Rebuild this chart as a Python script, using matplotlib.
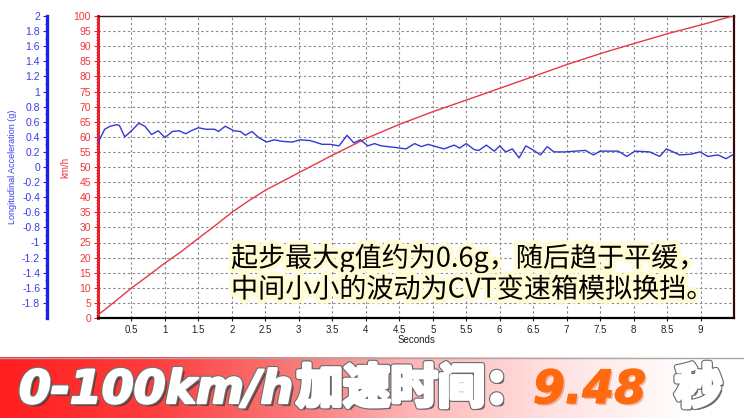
import matplotlib
matplotlib.use('Agg')
import matplotlib.pyplot as plt
import matplotlib.patheffects as pe
from matplotlib.colors import LinearSegmentedColormap
from matplotlib.lines import Line2D
from matplotlib.ticker import MultipleLocator
import numpy as np

plt.rcParams['font.family'] = ['Liberation Sans', 'DejaVu Sans']

# ---------------- data ----------------
speed_time = [0, 0.25, 0.5, 0.75, 1.0, 1.25, 1.5, 1.75, 2.0, 2.25, 2.5, 3.0, 3.5,
              4.0, 4.5, 5.0, 5.52, 6.02, 6.53, 7.04, 7.54, 8.04, 8.55, 9.05, 9.48]
speed_kmh = [1, 5.4, 9.9, 14.0, 18.2, 22.1, 26.4, 30.6, 35.0, 38.8, 42.3, 48.1, 53.9,
             59.4, 64.1, 68.3, 72.3, 76.2, 80.2, 84.2, 87.8, 91.1, 94.4, 97.3, 100]

accel_time = [0.00, 0.10, 0.18, 0.28, 0.32, 0.40, 0.50, 0.61, 0.70, 0.80,
              0.90, 1.00, 1.11, 1.21, 1.31, 1.39, 1.50, 1.61, 1.74, 1.80,
              1.90, 2.03, 2.13, 2.20, 2.30, 2.40, 2.52, 2.63, 2.75, 2.90,
              3.02, 3.17, 3.35, 3.47, 3.60, 3.72, 3.82, 3.92, 4.03, 4.13,
              4.23, 4.43, 4.60, 4.73, 4.83, 4.93, 5.05, 5.17, 5.32, 5.40,
              5.50, 5.62, 5.69, 5.80, 5.92, 6.00, 6.09, 6.19, 6.29, 6.39,
              6.49, 6.61, 6.71, 6.81, 6.98, 7.13, 7.28, 7.40, 7.50, 7.77,
              7.90, 8.02, 8.24, 8.39, 8.49, 8.69, 8.86, 8.99, 9.11, 9.26,
              9.38, 9.48]
accel_g = [0.32, 0.50, 0.54, 0.56, 0.55, 0.40, 0.48, 0.58, 0.54, 0.43,
           0.48, 0.39, 0.47, 0.48, 0.44, 0.48, 0.52, 0.50, 0.50, 0.47,
           0.54, 0.48, 0.47, 0.42, 0.47, 0.39, 0.33, 0.36, 0.34, 0.33,
           0.36, 0.35, 0.30, 0.30, 0.28, 0.42, 0.32, 0.36, 0.28, 0.31,
           0.28, 0.26, 0.24, 0.31, 0.27, 0.30, 0.27, 0.24, 0.29, 0.25,
           0.31, 0.23, 0.22, 0.29, 0.21, 0.28, 0.20, 0.24, 0.12, 0.28,
           0.23, 0.16, 0.27, 0.20, 0.20, 0.21, 0.22, 0.16, 0.21, 0.21,
           0.14, 0.21, 0.20, 0.14, 0.24, 0.16, 0.17, 0.20, 0.14, 0.16,
           0.11, 0.16]

x_ticks = [0.5, 1, 1.5, 2, 2.5, 3, 3.5, 4, 4.5, 5, 5.5, 6, 6.5, 7, 7.5, 8, 8.5, 9]
x_tick_labels = ['0.5', '1', '1.5', '2', '2.5', '3', '3.5', '4', '4.5', '5',
                 '5.5', '6', '6.5', '7', '7.5', '8', '8.5', '9']
speed_ticks = [0, 5, 10, 15, 20, 25, 30, 35, 40, 45, 50, 55, 60, 65, 70, 75, 80, 85, 90, 95, 100]
accel_ticks = [2, 1.8, 1.6, 1.4, 1.2, 1, 0.8, 0.6, 0.4, 0.2, 0, -0.2, -0.4, -0.6,
               -0.8, -1, -1.2, -1.4, -1.6, -1.8]
accel_tick_labels = ['2', '1.8', '1.6', '1.4', '1.2', '1', '0.8', '0.6', '0.4', '0.2', '0',
                     '-0.2', '-0.4', '-0.6', '-0.8', '-1', '-1.2', '-1.4', '-1.6', '-1.8']

note_lines = ['起步最大g值约为0.6g，随后趋于平缓，', '中间小小的波动为CVT变速箱模拟换挡。']
banner_head = '0-100km/h'
banner_cjk = '加速时间：'
banner_value = '9.48'
banner_unit = '秒'

# ---------------- figure ----------------
W, H = 744, 418
fig = plt.figure(figsize=(W / 100, H / 100), dpi=100)
fig.patch.set_facecolor('white')


def fx(px):
    return px / W


def fy(py):
    return 1 - py / H


L, R, T, B = 98, 734, 16, 318
ax = fig.add_axes([fx(L), fy(B), (R - L) / W, (B - T) / H])
ax.set_xlim(0, 9.5)
ax.set_ylim(0, 100)

RED = '#e8202a'
RED_TXT = '#f03838'
BLUE = '#1f1fe8'
BLUE_TXT = '#3a3af0'

ax.set_xticks(x_ticks)
ax.set_xticklabels(x_tick_labels)
ax.set_yticks(speed_ticks)
ax.yaxis.set_minor_locator(MultipleLocator(1))
ax.grid(True, which='major', color='#8c8c8c', linestyle=(0, (2.2, 2.2)), linewidth=0.8)
ax.set_axisbelow(True)

ax.plot(speed_time, speed_kmh, color='#e63846', lw=1.0, zorder=3)

ax.tick_params(axis='x', length=2, labelsize=7, pad=3, colors='#222222')
ax.tick_params(axis='y', which='major', length=3, labelsize=7.5, pad=2,
               color=RED, labelcolor=RED_TXT)
ax.tick_params(axis='y', which='minor', length=1.5, color=RED)

ax.spines['left'].set_color(RED)
ax.spines['left'].set_linewidth(2.2)
ax.spines['bottom'].set_color('black')
ax.spines['bottom'].set_linewidth(1.6)
ax.spines['top'].set_color('#222222')
ax.spines['top'].set_linewidth(1.0)
ax.spines['right'].set_color('#3a0808')
ax.spines['right'].set_linewidth(1.6)

ax.set_ylabel('km/h', color=RED_TXT, fontsize=7)
ax.yaxis.set_label_coords((70 - L) / (R - L), 0.5)
ax.set_xlabel('Seconds', fontsize=7, color='#222222')
ax.xaxis.set_label_coords(0.5, -(335 - B) / (B - T))

# acceleration axis
ax2 = ax.twinx()
ax2.set_ylim(-2, 2)
ax2.plot(accel_time, accel_g, color='#3636d6', lw=1.0, zorder=4)
ax2.yaxis.tick_left()
ax2.yaxis.set_label_position('left')
ax2.spines['left'].set_visible(True)
ax2.spines['left'].set_position(('axes', (47 - L) / (R - L)))
ax2.spines['left'].set_color(BLUE)
ax2.spines['left'].set_linewidth(2.4)
for s in ['right', 'top', 'bottom']:
    ax2.spines[s].set_visible(False)
ax2.set_yticks(accel_ticks)
ax2.set_yticklabels(accel_tick_labels)
ax2.yaxis.set_minor_locator(MultipleLocator(0.1))
ax2.tick_params(axis='y', which='major', length=3, labelsize=7.5, pad=2,
                color=BLUE, labelcolor=BLUE_TXT)
ax2.tick_params(axis='y', which='minor', length=1.5, color=BLUE)
ax2.set_ylabel('Longitudinal Acceleration (g)', color=BLUE_TXT, fontsize=6.5)
ax2.yaxis.set_label_coords((17 - L) / (R - L), (B - 167) / (B - T))

# annotation
halo = [pe.Stroke(linewidth=6, foreground='#fffbd2'), pe.Normal()]
fig.text(fx(231), fy(258), note_lines[0], fontsize=19.5, color='black',
         family=['Noto Sans CJK SC', 'DejaVu Sans'], ha='left', va='center',
         path_effects=halo, zorder=10)
fig.text(fx(231), fy(290), note_lines[1], fontsize=19.5, color='black',
         family=['Noto Sans CJK SC', 'DejaVu Sans'], ha='left', va='center',
         path_effects=halo, zorder=10)

# banner
bax = fig.add_axes([0, 0, 1, (H - 357) / H])
cmap = LinearSegmentedColormap.from_list('banner', [
    (0.0, '#ff1e1e'), (0.2, '#ff3c3c'), (0.4, '#f97a7a'), (0.55, '#ffb4b4'),
    (0.75, '#ffe2e2'), (0.93, '#ffffff'), (1.0, '#ffffff')])
bax.imshow([np.linspace(0, 1, 256)], aspect='auto', cmap=cmap, extent=[0, 1, 0, 1])
bax.set_xlim(0, 1)
bax.set_ylim(0, 1)
bax.axis('off')
fig.add_artist(Line2D([0, 1], [fy(357.5), fy(357.5)], color='#a8a8a8', lw=1.0))

shadow = [pe.SimplePatchShadow(offset=(2.2, -2.2), shadow_rgbFace='#3a3a3a', alpha=0.75),
          pe.Stroke(linewidth=3.2, foreground='#707070'),
          pe.Stroke(linewidth=1.6, foreground='white'), pe.Normal()]
shadow_cjk = [pe.SimplePatchShadow(offset=(2.2, -2.2), shadow_rgbFace='#3a3a3a', alpha=0.75),
              pe.Stroke(linewidth=4.6, foreground='#6a6a6a'),
              pe.Stroke(linewidth=3.0, foreground='white'), pe.Normal()]
shadow_or = [pe.SimplePatchShadow(offset=(1.5, -1.5), shadow_rgbFace='#c04000', alpha=0.3),
             pe.Stroke(linewidth=1.0, foreground='#ff6a10'), pe.Normal()]
base_y = fy(403)
fig.text(fx(19), base_y, banner_head, fontsize=33, fontweight='bold', style='italic',
         family='DejaVu Sans', color='white', va='baseline', ha='left',
         path_effects=shadow, zorder=12)
fig.text(fx(296), base_y, banner_cjk, fontsize=34, fontweight='bold',
         family=['Noto Sans CJK SC', 'DejaVu Sans'], color='white', va='baseline',
         ha='left', path_effects=shadow_cjk, zorder=12)
fig.text(fx(533), base_y, banner_value, fontsize=33, fontweight='bold', style='italic',
         family='DejaVu Sans', color='#ff6a10', va='baseline', ha='left',
         path_effects=shadow_or, zorder=12)
fig.text(fx(675), base_y, banner_unit, fontsize=34, fontweight='bold',
         family=['Noto Sans CJK SC', 'DejaVu Sans'], color='white', va='baseline',
         ha='left', path_effects=shadow_cjk, zorder=12)

fig.savefig('out.png', dpi=100)
